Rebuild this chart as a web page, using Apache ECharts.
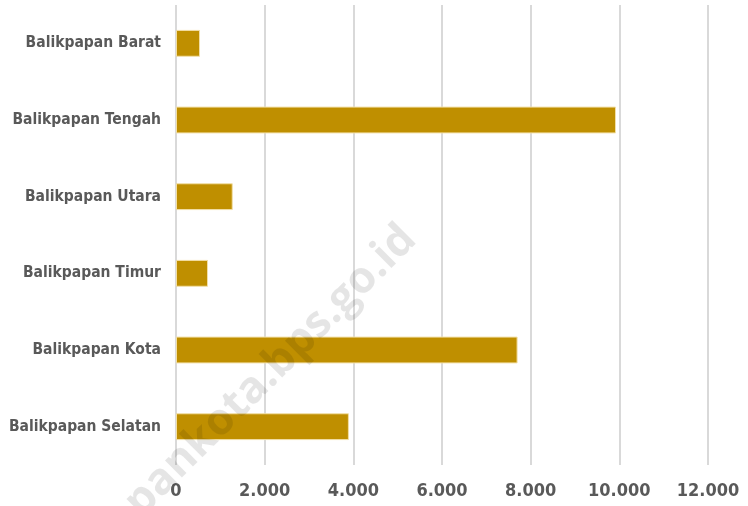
<!DOCTYPE html>
<html>
<head>
<meta charset="utf-8">
<script src="https://cdn.jsdelivr.net/npm/echarts@6/dist/echarts.min.js"></script>
<style>
  html, body { margin: 0; padding: 0; background: #fff; }
  #chart { width: 748px; height: 506px; }
</style>
</head>
<body>
<div id="chart"></div>
<script>
// kecamatan, bottom to top as echarts draws a category y axis
const districts = [
  'Balikpapan Selatan',
  'Balikpapan Kota',
  'Balikpapan Timur',
  'Balikpapan Utara',
  'Balikpapan Tengah',
  'Balikpapan Barat'
]
const values = [3900, 7705, 722, 1280, 9925, 542]
const xTicks = [0, 2000, 4000, 6000, 8000, 10000, 12000]

const fmt = (v) => String(v).replace(/\B(?=(\d{3})+(?!\d))/g, '.')
const labelFont = '"DejaVu Sans Condensed", "Roboto Condensed", Roboto, sans-serif'

const chart = echarts.init(document.getElementById('chart'))

const option = {
  animation: false,
  grid: {
    left: 176,
    right: 40,
    top: 5,
    bottom: 41
  },
  xAxis: {
    type: 'value',
    min: xTicks[0],
    max: xTicks[xTicks.length - 1],
    interval: 2000,
    axisLine: { show: false },
    axisTick: { show: false },
    splitLine: {
      show: true,
      lineStyle: { color: '#d9d9d9', width: 2 }
    },
    axisLabel: {
      margin: 17,
      formatter: fmt,
      color: '#595959',
      fontFamily: labelFont,
      fontWeight: 'bold',
      fontSize: 18
    }
  },
  yAxis: {
    type: 'category',
    data: districts,
    axisLine: { show: false },
    axisTick: { show: false },
    axisLabel: {
      margin: 15,
      color: '#595959',
      fontFamily: labelFont,
      fontWeight: 'bold',
      fontSize: 15.5
    }
  },
  series: [
    {
      type: 'bar',
      data: values,
      barWidth: '35%',
      itemStyle: {
        color: '#bf8f00',
        borderColor: '#f2dfa6',
        borderWidth: 1
      }
    }
  ],
  // faint diagonal watermark of the source site
  graphic: [
    {
      type: 'text',
      x: 425,
      y: 248,
      rotation: Math.PI / 4,
      style: {
        text: 'balikpapankota.bps.go.id',
        fill: 'rgba(0,0,0,0.10)',
        font: 'bold 44px "Open Sans"',
        align: 'right',
        verticalAlign: 'bottom'
      },
      z: 100
    }
  ]
}

chart.setOption(option)
</script>
</body>
</html>
